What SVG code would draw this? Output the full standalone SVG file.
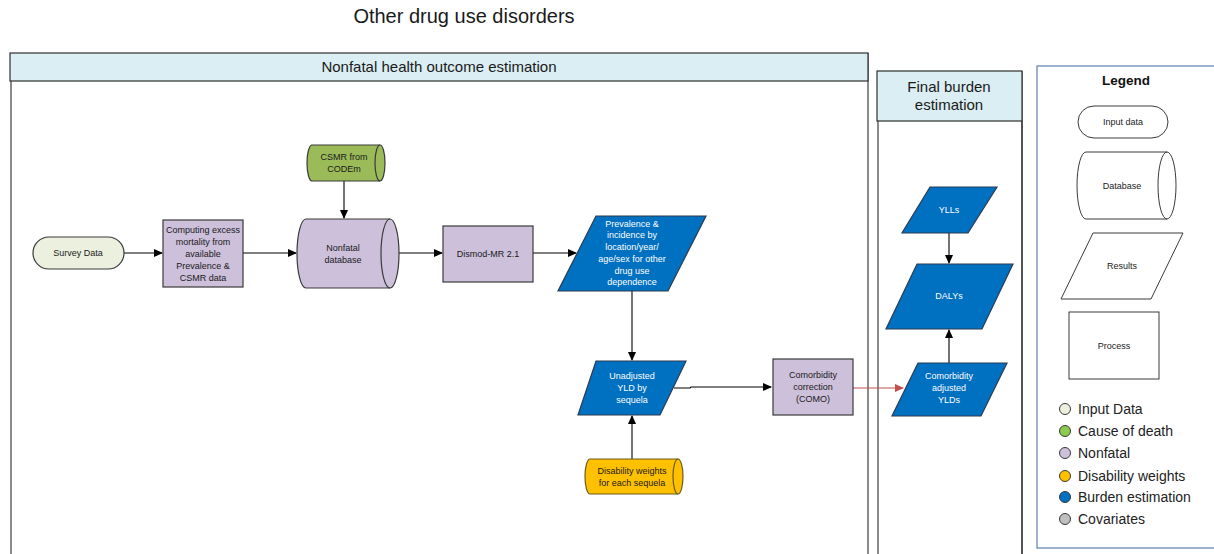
<svg xmlns="http://www.w3.org/2000/svg" width="1214" height="554" viewBox="0 0 1214 554">
<defs>
<marker id="ah" markerWidth="9" markerHeight="8" refX="8" refY="4" orient="auto" markerUnits="userSpaceOnUse"><path d="M0,0 L9,4 L0,8 Z" fill="#000"/></marker>
<marker id="ahr" markerWidth="9" markerHeight="8" refX="8" refY="4" orient="auto" markerUnits="userSpaceOnUse"><path d="M0,0 L9,4 L0,8 Z" fill="#C0504D"/></marker>
<style>
text{font-family:"Liberation Sans",Arial,sans-serif;}
.t{font-size:9px;fill:#1a1a1a;text-anchor:middle;}
.w{font-size:9px;fill:#fff;text-anchor:middle;}
.hd{font-size:15px;fill:#1a1a1a;text-anchor:middle;}
.lg{font-size:14px;fill:#222;}
.bd{stroke:#3a3a3a;stroke-width:1.2;}
.blue{fill:#0070C0;stroke:#2b3b52;stroke-width:1.2;}
.purp{fill:#CCC0DA;stroke:#3a3a3a;stroke-width:1.2;}
.c{stroke:#000;stroke-width:1.1;fill:none;marker-end:url(#ah);}
.lc{stroke:#3a3a3a;stroke-width:1;}
</style>
</defs>
<rect width="1214" height="554" fill="#fff"/>
<text x="464" y="23" style="font-size:20px;fill:#1a1a1a;text-anchor:middle;">Other drug use disorders</text>

<g id="panel-nonfatal">
<rect x="11" y="54" width="857" height="510" fill="#fff" stroke="#8a8a8a" stroke-width="2"/>
<rect x="10" y="53" width="858" height="28" fill="#DAEEF3" stroke="#2f2f2f" stroke-width="1.2"/>
<text x="439" y="72" class="hd">Nonfatal health outcome estimation</text>
</g>
<g id="panel-final">
<rect x="878" y="72" width="144" height="500" fill="#fff" stroke="#8a8a8a" stroke-width="2"/>
<rect x="877" y="71" width="145" height="50" fill="#DAEEF3" stroke="#2f2f2f" stroke-width="1.2"/>
<line x1="1022" y1="121" x2="1022" y2="554" stroke="#2f2f2f" stroke-width="1.2"/>
<text x="949" y="92" class="hd">Final burden</text>
<text x="949" y="110" class="hd">estimation</text>
</g>

<g id="legend">
<rect x="1037" y="66" width="190" height="482" fill="#fff" stroke="#5B7FB0" stroke-width="1.2"/>
<text x="1126" y="85" style="font-size:13.5px;font-weight:bold;fill:#111;text-anchor:middle;">Legend</text>
<rect x="1078" y="106" width="90" height="32" rx="16" fill="#fff" class="lc"/>
<text x="1123" y="125" class="t">Input data</text>
<path d="M1086,152 L1167,152 A9,33.5 0 0 1 1167,219 L1086,219 A9,33.5 0 0 1 1086,152 Z" fill="#fff" class="lc"/>
<path d="M1167,152 A9,33.5 0 0 0 1167,219" fill="none" class="lc"/>
<text x="1122" y="189" class="t">Database</text>
<path d="M1093,233 L1183,233 L1151,299 L1061,299 Z" fill="#fff" class="lc"/>
<text x="1122" y="269" class="t">Results</text>
<rect x="1069" y="312" width="90" height="67" fill="#fff" class="lc"/>
<text x="1114" y="349" class="t">Process</text>
<circle cx="1065" cy="409" r="5.5" fill="#EBF1DE" class="lc"/>
<text x="1078" y="414" class="lg">Input Data</text>
<circle cx="1065" cy="431" r="5.5" fill="#8CCB4F" class="lc"/>
<text x="1078" y="436" class="lg">Cause of death</text>
<circle cx="1065" cy="453" r="5.5" fill="#CCC0DA" class="lc"/>
<text x="1078" y="458" class="lg">Nonfatal</text>
<circle cx="1065" cy="476" r="5.5" fill="#FFC000" class="lc"/>
<text x="1078" y="481" class="lg">Disability weights</text>
<circle cx="1065" cy="497" r="5.5" fill="#0070C0" class="lc"/>
<text x="1078" y="502" class="lg">Burden estimation</text>
<circle cx="1065" cy="519" r="5.5" fill="#BFBFBF" class="lc"/>
<text x="1078" y="524" class="lg">Covariates</text>
</g>

<g id="connectors">
<line x1="124" y1="253" x2="162" y2="253" class="c"/>
<line x1="243" y1="253" x2="296" y2="253" class="c"/>
<line x1="344" y1="181" x2="344" y2="218" class="c"/>
<line x1="399" y1="253" x2="442" y2="253" class="c"/>
<line x1="533" y1="253" x2="576" y2="253" class="c"/>
<line x1="632" y1="291" x2="632" y2="360" class="c"/>
<line x1="632" y1="459" x2="632" y2="416" class="c"/>
<polyline points="674,388 690,388 691,387 771,387" class="c"/>
<line x1="853" y1="388" x2="903" y2="388" stroke="#C0504D" stroke-width="1" marker-end="url(#ahr)"/>
<line x1="949" y1="363" x2="949" y2="330" class="c"/>
<line x1="949" y1="233" x2="949" y2="263" class="c"/>
</g>

<g id="survey-data">
<rect x="33" y="237" width="91" height="32" rx="16" fill="#EBF1DE" class="bd"/>
<text x="78" y="256" class="t">Survey Data</text>
</g>
<g id="computing">
<rect x="163" y="220" width="80" height="67" class="purp"/>
<text x="203" y="233" class="t">Computing excess</text>
<text x="203" y="245" class="t">mortality from</text>
<text x="203" y="257" class="t">available</text>
<text x="203" y="269" class="t">Prevalence  &amp;</text>
<text x="203" y="281" class="t">CSMR data</text>
</g>
<g id="csmr">
<path d="M312,145 L380,145 A5,18 0 0 1 380,181 L312,181 A5,18 0 0 1 312,145 Z" fill="#9BBB59" class="bd"/>
<path d="M380,145 A5,18 0 0 0 380,181" fill="none" class="bd"/>
<text x="344" y="160" class="t">CSMR from</text>
<text x="344" y="172" class="t">CODEm</text>
</g>
<g id="nonfatal-db">
<path d="M306,219 L390,219 A9,34.5 0 0 1 390,288 L306,288 A9,34.5 0 0 1 306,219 Z" fill="#CCC0DA" class="bd"/>
<path d="M390,219 A9,34.5 0 0 0 390,288" fill="none" class="bd"/>
<text x="343" y="251" class="t">Nonfatal</text>
<text x="343" y="263" class="t">database</text>
</g>
<g id="dismod">
<rect x="443" y="226" width="90" height="56" class="purp"/>
<text x="488" y="257" class="t">Dismod-MR 2.1</text>
</g>
<g id="prevalence">
<path d="M596,216 L706,216 L668,291 L558,291 Z" class="blue"/>
<text x="632" y="227" class="w">Prevalence &amp;</text>
<text x="632" y="238" class="w">incidence by</text>
<text x="632" y="250" class="w">location/year/</text>
<text x="632" y="262" class="w">age/sex for other</text>
<text x="632" y="274" class="w">drug use</text>
<text x="632" y="285" class="w">dependence</text>
</g>
<g id="unadjusted">
<path d="M596,361 L686,361 L660,415 L578,415 Z" class="blue"/>
<text x="632" y="379" class="w">Unadjusted</text>
<text x="632" y="391" class="w">YLD by</text>
<text x="632" y="403" class="w">sequela</text>
</g>
<g id="disability">
<path d="M590,459 L678,459 A5,17.5 0 0 1 678,494 L590,494 A5,17.5 0 0 1 590,459 Z" fill="#FFC000" stroke="#6b5a1a" stroke-width="1.2"/>
<path d="M678,459 A5,17.5 0 0 0 678,494" fill="none" stroke="#6b5a1a" stroke-width="1.2"/>
<text x="632" y="474" class="t">Disability weights</text>
<text x="632" y="486" class="t">for each sequela</text>
</g>
<g id="como">
<rect x="773" y="359" width="80" height="56" class="purp"/>
<text x="813" y="378" class="t">Comorbidity</text>
<text x="813" y="390" class="t">correction</text>
<text x="813" y="402" class="t">(COMO)</text>
</g>
<g id="yll">
<path d="M930,187 L997,187 L968,233 L902,233 Z" class="blue"/>
<text x="949" y="213" class="w">YLLs</text>
</g>
<g id="daly">
<path d="M917,264 L1013,264 L982,329 L886,329 Z" class="blue"/>
<text x="949" y="299" class="w">DALYs</text>
</g>
<g id="como-adjusted">
<path d="M918,363 L1007,363 L981,416 L892,416 Z" class="blue"/>
<text x="949" y="379" class="w">Comorbidity</text>
<text x="949" y="391" class="w">adjusted</text>
<text x="949" y="403" class="w">YLDs</text>
</g>
</svg>
